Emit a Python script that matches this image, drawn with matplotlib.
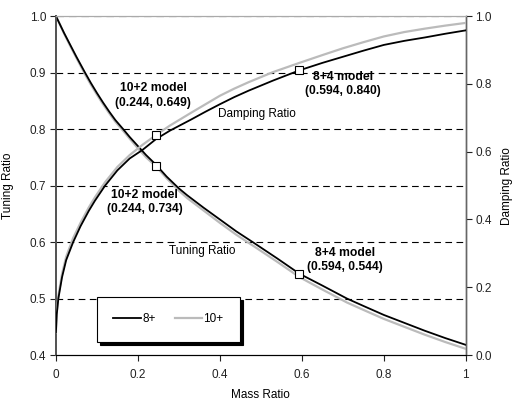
import matplotlib
matplotlib.use("Agg")
import matplotlib.pyplot as plt

plt.rcParams['font.family'] = ['Liberation Sans', 'DejaVu Sans']
plt.rcParams['font.size'] = 8.5

# tuning ratio (left axis)
tun_mass = [0, 0.01, 0.02, 0.035, 0.05, 0.071, 0.085, 0.1, 0.115, 0.13, 0.145, 0.164, 0.18, 0.2, 0.22,
            0.244, 0.27, 0.3, 0.32, 0.36, 0.4, 0.44, 0.48, 0.54, 0.594, 0.65, 0.71, 0.75, 0.8, 0.85,
            0.9, 0.95, 1.0]
tun_8 = [1.0, 0.985, 0.97, 0.949, 0.928, 0.9, 0.882, 0.864, 0.847, 0.831, 0.816, 0.8, 0.786, 0.77, 0.754,
         0.737, 0.716, 0.695, 0.683, 0.661, 0.64, 0.619, 0.6, 0.571, 0.544, 0.523, 0.5, 0.487, 0.471, 0.457,
         0.443, 0.43, 0.418]
tun_10 = [1.0, 0.985, 0.969, 0.947, 0.926, 0.897, 0.879, 0.861, 0.844, 0.828, 0.813, 0.797, 0.783, 0.766, 0.75,
          0.734, 0.713, 0.691, 0.678, 0.656, 0.634, 0.613, 0.594, 0.565, 0.538, 0.516, 0.493, 0.48, 0.464, 0.45,
          0.436, 0.423, 0.411]

# damping ratio (right axis)
dmp_mass = [0, 0.002, 0.006, 0.015, 0.025, 0.042, 0.06, 0.08, 0.095, 0.12, 0.15, 0.18,
            0.211, 0.244, 0.278, 0.33, 0.365, 0.4, 0.435, 0.47, 0.53, 0.594, 0.65, 0.7, 0.75,
            0.8, 0.85, 0.9, 0.95, 1.0]
dmp_8 = [0.067, 0.12, 0.167, 0.23, 0.28, 0.333, 0.38, 0.425, 0.455, 0.5, 0.545, 0.58,
         0.605, 0.637, 0.662, 0.695, 0.718, 0.74, 0.761, 0.78, 0.81, 0.84, 0.862, 0.88, 0.898,
         0.915, 0.927, 0.937, 0.948, 0.958]
dmp_10 = [0.067, 0.125, 0.175, 0.24, 0.29, 0.345, 0.39, 0.435, 0.465, 0.51, 0.555, 0.59,
          0.62, 0.649, 0.677, 0.715, 0.74, 0.765, 0.786, 0.805, 0.835, 0.862, 0.885, 0.905, 0.923,
          0.94, 0.953, 0.963, 0.972, 0.98]

# model points
tun_pts_x = [0.244, 0.594]
tun_pts_y = [0.734, 0.544]
dmp_pts_x = [0.244, 0.594]
dmp_pts_y = [0.649, 0.840]

fig = plt.figure(figsize=(5.13, 4.03), dpi=100)
ax = fig.add_axes([0.109, 0.119, 0.799, 0.841])
ax2 = ax.twinx()

for y in [0.5, 0.6, 0.7, 0.8, 0.9]:
    ax.axhline(y, color='black', lw=0.8, dashes=(6, 4), zorder=1)
ax.axhline(1.0, color='#888888', lw=0.9, dashes=(6, 4), zorder=1)

ax.plot(tun_mass, tun_10, color='#bbbbbb', lw=1.6, zorder=3)
ax.plot(tun_mass, tun_8, color='black', lw=1.3, zorder=4)
ax2.plot(dmp_mass, dmp_10, color='#bbbbbb', lw=1.6, zorder=3, label='10+')
ax2.plot(dmp_mass, dmp_8, color='black', lw=1.3, zorder=4, label='8+')

ax.plot(tun_pts_x, tun_pts_y, ls='none', marker='s', ms=5.5, mfc='white', mec='black', mew=0.8, zorder=5)
ax2.plot(dmp_pts_x, dmp_pts_y, ls='none', marker='s', ms=5.5, mfc='white', mec='black', mew=0.8, zorder=5)

ax.set_xlim(0, 1)
ax.set_ylim(0.4, 1.0)
ax2.set_ylim(0, 1.0)
ax.set_xticks([0, 0.2, 0.4, 0.6, 0.8, 1.0])
ax.set_xticklabels(['0', '0.2', '0.4', '0.6', '0.8', '1'])
ax.set_yticks([0.4, 0.5, 0.6, 0.7, 0.8, 0.9, 1.0])
ax.set_yticklabels(['0.4', '0.5', '0.6', '0.7', '0.8', '0.9', '1.0'])
ax2.set_yticks([0, 0.2, 0.4, 0.6, 0.8, 1.0])
ax2.set_yticklabels(['0.0', '0.2', '0.4', '0.6', '0.8', '1.0'])

for a in (ax, ax2):
    a.tick_params(direction='out', length=4, width=0.8, pad=3, labelsize=8.5, colors='#222222')
    a.spines['top'].set_color('#aaaaaa')
    a.spines['left'].set_color('#555555')
    a.spines['left'].set_linewidth(1.4)
    a.spines['right'].set_color('#666666')
    a.spines['right'].set_linewidth(1.0)
    a.spines['bottom'].set_color('black')
ax.tick_params(axis='x', pad=6)

ax.set_xlabel('Mass Ratio', fontsize=8.5, labelpad=6)
ax.set_ylabel('Tuning Ratio', fontsize=8.5)
ax.yaxis.set_label_coords(-0.103, 0.5)
ax2.set_ylabel('Damping Ratio', fontsize=8.5, rotation=90, va='center')
ax2.yaxis.set_label_coords(1.1, 0.5)

kw = dict(ha='center', va='center', fontsize=8.7, fontweight='bold', linespacing=1.3)
ax.text(0.237, 0.86, '10+2 model\n(0.244, 0.649)', **kw)
ax.text(0.217, 0.671, '10+2 model\n(0.244, 0.734)', **kw)
ax.text(0.70, 0.88, '8+4 model\n(0.594, 0.840)', **kw)
ax.text(0.705, 0.568, '8+4 model\n(0.594, 0.544)', **kw)
ax.text(0.49, 0.827, 'Damping Ratio', ha='center', va='center', fontsize=8.5)
ax.text(0.358, 0.584, 'Tuning Ratio', ha='center', va='center', fontsize=8.5)

h, l = ax2.get_legend_handles_labels()
leg = ax2.legend(h[::-1], l[::-1], ncol=2, loc='upper left',
                 bbox_to_anchor=(0.1, 0.172), borderaxespad=0,
                 frameon=True, fancybox=False, shadow={'color': 'black', 'alpha': 1},
                 borderpad=1.4, handlelength=2.3, handletextpad=0.15,
                 columnspacing=1.6, fontsize=8.5)
leg.get_frame().set_edgecolor('black')
leg.get_frame().set_linewidth(0.8)
leg.set_zorder(6)

fig.savefig('out.png', dpi=100)
